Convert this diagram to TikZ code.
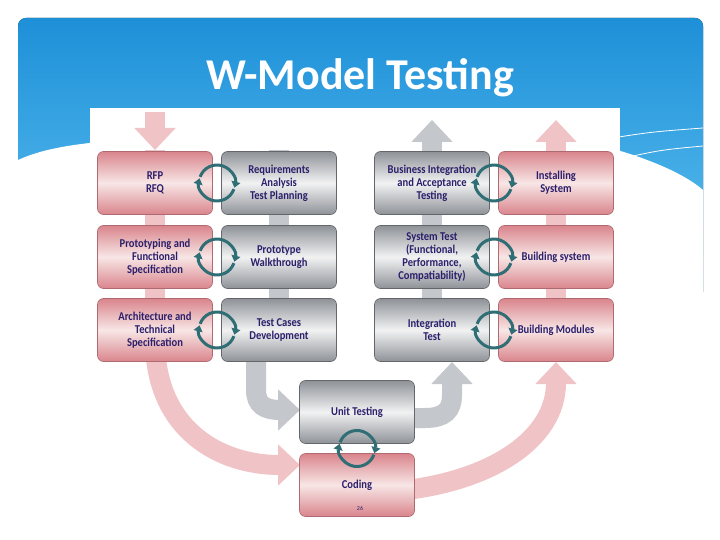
\documentclass[tikz,border=0pt]{standalone}
\usepackage{fontspec}
\setmainfont{Carlito}
\newfontfamily\boxfont{Carlito}[FakeStretch=0.88]
\usetikzlibrary{arrows.meta,calc}
\definecolor{navy}{HTML}{2B1F6B}
\definecolor{pinkD}{HTML}{D9858C}
\definecolor{pinkL}{HTML}{F8E6E6}
\definecolor{pinkA}{HTML}{F0C4C6}
\definecolor{grayD}{HTML}{8E9298}
\definecolor{grayL}{HTML}{F2F2F3}
\definecolor{grayA}{HTML}{C4C7CB}
\definecolor{teal}{HTML}{2F6E75}
\definecolor{blueD}{HTML}{1E90D8}
\definecolor{blueL}{HTML}{62C4F2}
\tikzset{
  pbox/.style={rounded corners=6pt, draw=pinkD!80!black, line width=0.6pt, top color=pinkD, bottom color=pinkD, middle color=pinkL, minimum width=115pt, minimum height=63pt, align=center, font=\boxfont\bfseries\fontsize{12}{13}\selectfont, text=navy, inner sep=1pt},
  gbox/.style={pbox, draw=grayD!70!black, top color=grayD, bottom color=grayD, middle color=grayL},
  pband/.style={draw=pinkA, line width=20pt, -{Triangle[width=40pt,length=22pt]}},
  gband/.style={pband, draw=grayA},
  pbar/.style={draw=pinkA, line width=20pt},
  gbar/.style={draw=grayA, line width=20pt},
  cyc/.style={draw=teal, line width=3pt, -{Triangle[width=9pt,length=6pt]}}
}
\newcommand\cyclearr[1]{%
  \draw[cyc] ([shift={(160:18pt)}]#1) arc[start angle=160, end angle=-15, radius=18pt];
  \draw[cyc] ([shift={(-20:18pt)}]#1) arc[start angle=-20, end angle=-195, radius=18pt];
}
\begin{document}
\begin{tikzpicture}[x=1pt,y=-1pt]
\useasboundingbox (0,0) rectangle (720,540);
\fill[white] (0,0) rectangle (720,540);
\fill[rounded corners=8pt, top color=blueD, bottom color=blueL] (18,18) rectangle (703,300);
\fill[white] (18,160) .. controls (45,148) and (80,140) .. (200,136) -- (560,136) .. controls (630,150) and (680,170) .. (703,190) -- (703,540) -- (18,540) -- cycle;
\draw[white, line width=0.8pt] (600,140) .. controls (650,132) .. (703,128);
\draw[white, line width=0.8pt] (615,160) .. controls (660,150) .. (703,146);
\node (title) at (360,78) {\fontsize{44}{48}\selectfont\bfseries\color{white} W-Model Testing};
\fill[white] (90,108) rectangle (620,520);
% bars behind
\draw[pbar] (155,150) -- (155,330);
\draw[gbar] (279,150) -- (279,330);
\draw[gband] (432,330) -- (432,120);
\draw[pband] (556,330) -- (556,120);
\draw[pband] (155,112) -- (155,150);
% curved bands
\draw[pband] (155,340) .. controls (155,430) and (220,465) .. (300,465);
\draw[pband] (406,490) .. controls (490,480) and (556,440) .. (556,362);
\draw[gband] (256,340) -- (256,390) .. controls (256,405) and (265,410) .. (280,410) -- (300,410);
\draw[gband] (410,418) -- (425,418) .. controls (445,418) and (452,410) .. (452,395) -- (452,362);
% boxes
\node[pbox] (rfp) at (155,183) {RFP\\RFQ};
\node[gbox] (req) at (279,183) {Requirements\\Analysis\\Test Planning};
\node[pbox] (proto) at (155,257) {Prototyping and\\Functional\\Specification};
\node[gbox] (walk) at (279,257) {Prototype\\Walkthrough};
\node[pbox] (arch) at (155,330) {Architecture and\\Technical\\Specification};
\node[gbox] (tc) at (279,330) {Test Cases\\Development};
\node[gbox] (bia) at (432,183) {Business Integration\\and Acceptance\\Testing};
\node[pbox] (inst) at (556,183) {Installing\\System};
\node[gbox] (sys) at (432,257) {System Test\\(Functional,\\Performance,\\Compatiability)};
\node[pbox] (bsys) at (556,257) {Building system};
\node[gbox] (it) at (432,330) {Integration\\Test};
\node[pbox] (bmod) at (556,330) {Building Modules};
\node[gbox] (ut) at (357,412) {Unit Testing};
\node[pbox] (cod) at (357,485) {Coding};
% cycle arrows
\cyclearr{$(rfp.east)!0.5!(req.west)$}
\cyclearr{$(proto.east)!0.5!(walk.west)$}
\cyclearr{$(arch.east)!0.5!(tc.west)$}
\cyclearr{$(bia.east)!0.5!(inst.west)$}
\cyclearr{$(sys.east)!0.5!(bsys.west)$}
\cyclearr{$(it.east)!0.5!(bmod.west)$}
\cyclearr{$(ut.south)!0.5!(cod.north)$}
\node (pg) at (360,508) {\fontsize{6}{7}\selectfont\color{navy}26};
\end{tikzpicture}
\end{document}
